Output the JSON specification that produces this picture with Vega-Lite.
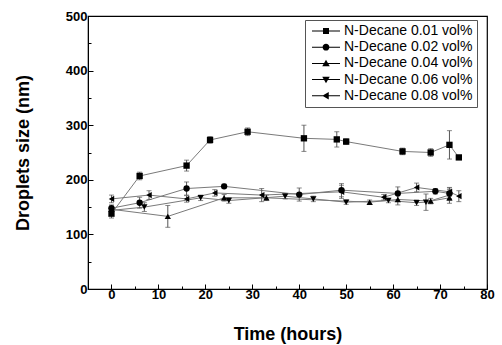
{
  "$schema": "https://vega.github.io/schema/vega-lite/v6.json",
  "autosize": "none",
  "width": 399,
  "height": 273,
  "padding": {"left": 88, "top": 16, "right": 15, "bottom": 56},
  "background": "white",
  "config": {
    "font": "Liberation Sans",
    "view": {"stroke": "black", "strokeWidth": 1.2},
    "axis": {
      "domainColor": "black",
      "tickColor": "black",
      "labelColor": "black",
      "titleColor": "black",
      "labelFont": "Liberation Sans",
      "titleFont": "Liberation Sans",
      "labelFontWeight": "bold",
      "titleFontWeight": "bold",
      "labelFontSize": 13,
      "titleFontSize": 18,
      "grid": false
    }
  },
  "data": {
    "values": [
      {"s": "N-Decane 0.01 vol%", "t": 0, "v": 138, "e": 8},
      {"s": "N-Decane 0.01 vol%", "t": 6, "v": 207, "e": 7},
      {"s": "N-Decane 0.01 vol%", "t": 16, "v": 226, "e": 10},
      {"s": "N-Decane 0.01 vol%", "t": 21, "v": 273, "e": 6},
      {"s": "N-Decane 0.01 vol%", "t": 29, "v": 288, "e": 7},
      {"s": "N-Decane 0.01 vol%", "t": 41, "v": 276, "e": 24},
      {"s": "N-Decane 0.01 vol%", "t": 48, "v": 274, "e": 14},
      {"s": "N-Decane 0.01 vol%", "t": 50, "v": 270, "e": 5},
      {"s": "N-Decane 0.01 vol%", "t": 62, "v": 252, "e": 6},
      {"s": "N-Decane 0.01 vol%", "t": 68, "v": 250, "e": 7},
      {"s": "N-Decane 0.01 vol%", "t": 72, "v": 264, "e": 26},
      {"s": "N-Decane 0.01 vol%", "t": 74, "v": 241, "e": 0},
      {"s": "N-Decane 0.02 vol%", "t": 0, "v": 148, "e": 6},
      {"s": "N-Decane 0.02 vol%", "t": 6, "v": 158, "e": 10},
      {"s": "N-Decane 0.02 vol%", "t": 16, "v": 184, "e": 12},
      {"s": "N-Decane 0.02 vol%", "t": 24, "v": 188, "e": 4},
      {"s": "N-Decane 0.02 vol%", "t": 40, "v": 173, "e": 12},
      {"s": "N-Decane 0.02 vol%", "t": 49, "v": 181, "e": 12},
      {"s": "N-Decane 0.02 vol%", "t": 61, "v": 175, "e": 12},
      {"s": "N-Decane 0.02 vol%", "t": 69, "v": 179, "e": 5},
      {"s": "N-Decane 0.02 vol%", "t": 72, "v": 175, "e": 10},
      {"s": "N-Decane 0.04 vol%", "t": 0, "v": 146, "e": 6},
      {"s": "N-Decane 0.04 vol%", "t": 12, "v": 133, "e": 20},
      {"s": "N-Decane 0.04 vol%", "t": 24, "v": 167, "e": 6},
      {"s": "N-Decane 0.04 vol%", "t": 33, "v": 167, "e": 5},
      {"s": "N-Decane 0.04 vol%", "t": 55, "v": 159, "e": 4},
      {"s": "N-Decane 0.04 vol%", "t": 61, "v": 164, "e": 10},
      {"s": "N-Decane 0.04 vol%", "t": 68, "v": 161, "e": 5},
      {"s": "N-Decane 0.04 vol%", "t": 72, "v": 167, "e": 10},
      {"s": "N-Decane 0.06 vol%", "t": 0, "v": 144, "e": 5},
      {"s": "N-Decane 0.06 vol%", "t": 7, "v": 150, "e": 8},
      {"s": "N-Decane 0.06 vol%", "t": 19, "v": 167, "e": 5},
      {"s": "N-Decane 0.06 vol%", "t": 25, "v": 162, "e": 5},
      {"s": "N-Decane 0.06 vol%", "t": 37, "v": 170, "e": 5},
      {"s": "N-Decane 0.06 vol%", "t": 43, "v": 165, "e": 5},
      {"s": "N-Decane 0.06 vol%", "t": 50, "v": 159, "e": 4},
      {"s": "N-Decane 0.06 vol%", "t": 59, "v": 162, "e": 4},
      {"s": "N-Decane 0.06 vol%", "t": 65, "v": 158, "e": 5},
      {"s": "N-Decane 0.06 vol%", "t": 67, "v": 159, "e": 15},
      {"s": "N-Decane 0.06 vol%", "t": 72, "v": 172, "e": 10},
      {"s": "N-Decane 0.08 vol%", "t": 0, "v": 165, "e": 7},
      {"s": "N-Decane 0.08 vol%", "t": 8, "v": 172, "e": 8},
      {"s": "N-Decane 0.08 vol%", "t": 16, "v": 165, "e": 6},
      {"s": "N-Decane 0.08 vol%", "t": 22, "v": 176, "e": 6},
      {"s": "N-Decane 0.08 vol%", "t": 32, "v": 172, "e": 12},
      {"s": "N-Decane 0.08 vol%", "t": 49, "v": 178, "e": 12},
      {"s": "N-Decane 0.08 vol%", "t": 58, "v": 168, "e": 5},
      {"s": "N-Decane 0.08 vol%", "t": 65, "v": 186, "e": 8},
      {"s": "N-Decane 0.08 vol%", "t": 72, "v": 178, "e": 8},
      {"s": "N-Decane 0.08 vol%", "t": 74, "v": 170, "e": 10}
    ]
  },
  "encoding": {
    "x": {
      "field": "t", "type": "quantitative",
      "scale": {"domain": [-5, 80], "nice": false, "zero": false},
      "axis": {
        "title": "Time (hours)",
        "values": [0, 5, 10, 15, 20, 25, 30, 35, 40, 45, 50, 55, 60, 65, 70, 75, 80],
        "labelExpr": "datum.value % 10 === 0 ? datum.label : ''",
        "tickSize": {"condition": {"test": "datum.value % 10 !== 0", "value": -3}, "value": -5},
        "labelPadding": 4,
        "titlePadding": 24,
        "labelFlush": false
      }
    },
    "y": {
      "field": "v", "type": "quantitative",
      "scale": {"domain": [0, 500], "nice": false},
      "axis": {
        "title": "Droplets size (nm)",
        "values": [0, 50, 100, 150, 200, 250, 300, 350, 400, 450, 500],
        "labelExpr": "datum.value % 100 === 0 ? datum.label : ''",
        "tickSize": {"condition": {"test": "datum.value % 100 !== 0", "value": -3}, "value": -5},
        "labelPadding": 6,
        "titlePadding": 33,
        "labelFlush": false
      }
    }
  },
  "resolve": {"scale": {"shape": "independent"}, "legend": {"shape": "independent"}},
  "layer": [
    {
      "mark": {"type": "line", "color": "#7a7a7a", "strokeWidth": 1},
      "encoding": {"detail": {"field": "s"}}
    },
    {
      "mark": {"type": "errorbar", "color": "#555555", "ticks": {"size": 5, "color": "#555555"}},
      "encoding": {"yError": {"field": "e"}, "detail": {"field": "s"}}
    },
    {
      "mark": {"type": "point", "filled": true, "color": "black", "opacity": 1, "size": 40},
      "encoding": {
        "shape": {
          "field": "s", "type": "nominal",
          "scale": {
            "domain": ["N-Decane 0.01 vol%", "N-Decane 0.02 vol%", "N-Decane 0.04 vol%", "N-Decane 0.06 vol%", "N-Decane 0.08 vol%"],
            "range": ["square", "circle", "triangle-up", "triangle-down", "triangle-left"]
          },
          "legend": null
        }
      }
    },
    {
      "mark": {"type": "point", "filled": true, "color": "black", "opacity": 0, "size": 1},
      "encoding": {
        "shape": {
          "field": "s", "type": "nominal",
          "scale": {
            "domain": ["N-Decane 0.01 vol%", "N-Decane 0.02 vol%", "N-Decane 0.04 vol%", "N-Decane 0.06 vol%", "N-Decane 0.08 vol%"],
            "range": [
              "M-3.6,-0.1H2.0V0.1H-3.6Z M-1.4,-0.6H-0.2V0.6H-1.4Z",
              "M-3.6,-0.1H2.0V0.1H-3.6Z M-0.12,0A0.68,0.68 0 1,1 -1.48,0A0.68,0.68 0 1,1 -0.12,0Z",
              "M-3.6,-0.1H2.0V0.1H-3.6Z M-0.8,-0.75L-0.05,0.55L-1.55,0.55Z",
              "M-3.6,-0.1H2.0V0.1H-3.6Z M-0.8,0.75L-1.55,-0.55L-0.05,-0.55Z",
              "M-3.6,-0.1H2.0V0.1H-3.6Z M-1.55,0L-0.25,-0.75L-0.25,0.75Z"
            ]
          },
          "legend": {
            "title": null,
            "orient": "none",
            "legendX": 217,
            "legendY": 4,
            "padding": 4,
            "strokeColor": "#555555",
            "fillColor": "white",
            "symbolSize": 100,
            "symbolOpacity": 1,
            "symbolFillColor": "black",
            "symbolStrokeWidth": 0,
            "symbolOffset": 14,
            "labelOffset": 7,
            "rowPadding": 2.2,
            "labelFont": "Liberation Sans",
            "labelFontSize": 14,
            "labelColor": "black",
            "labelLimit": 300
          }
        }
      }
    }
  ]
}
